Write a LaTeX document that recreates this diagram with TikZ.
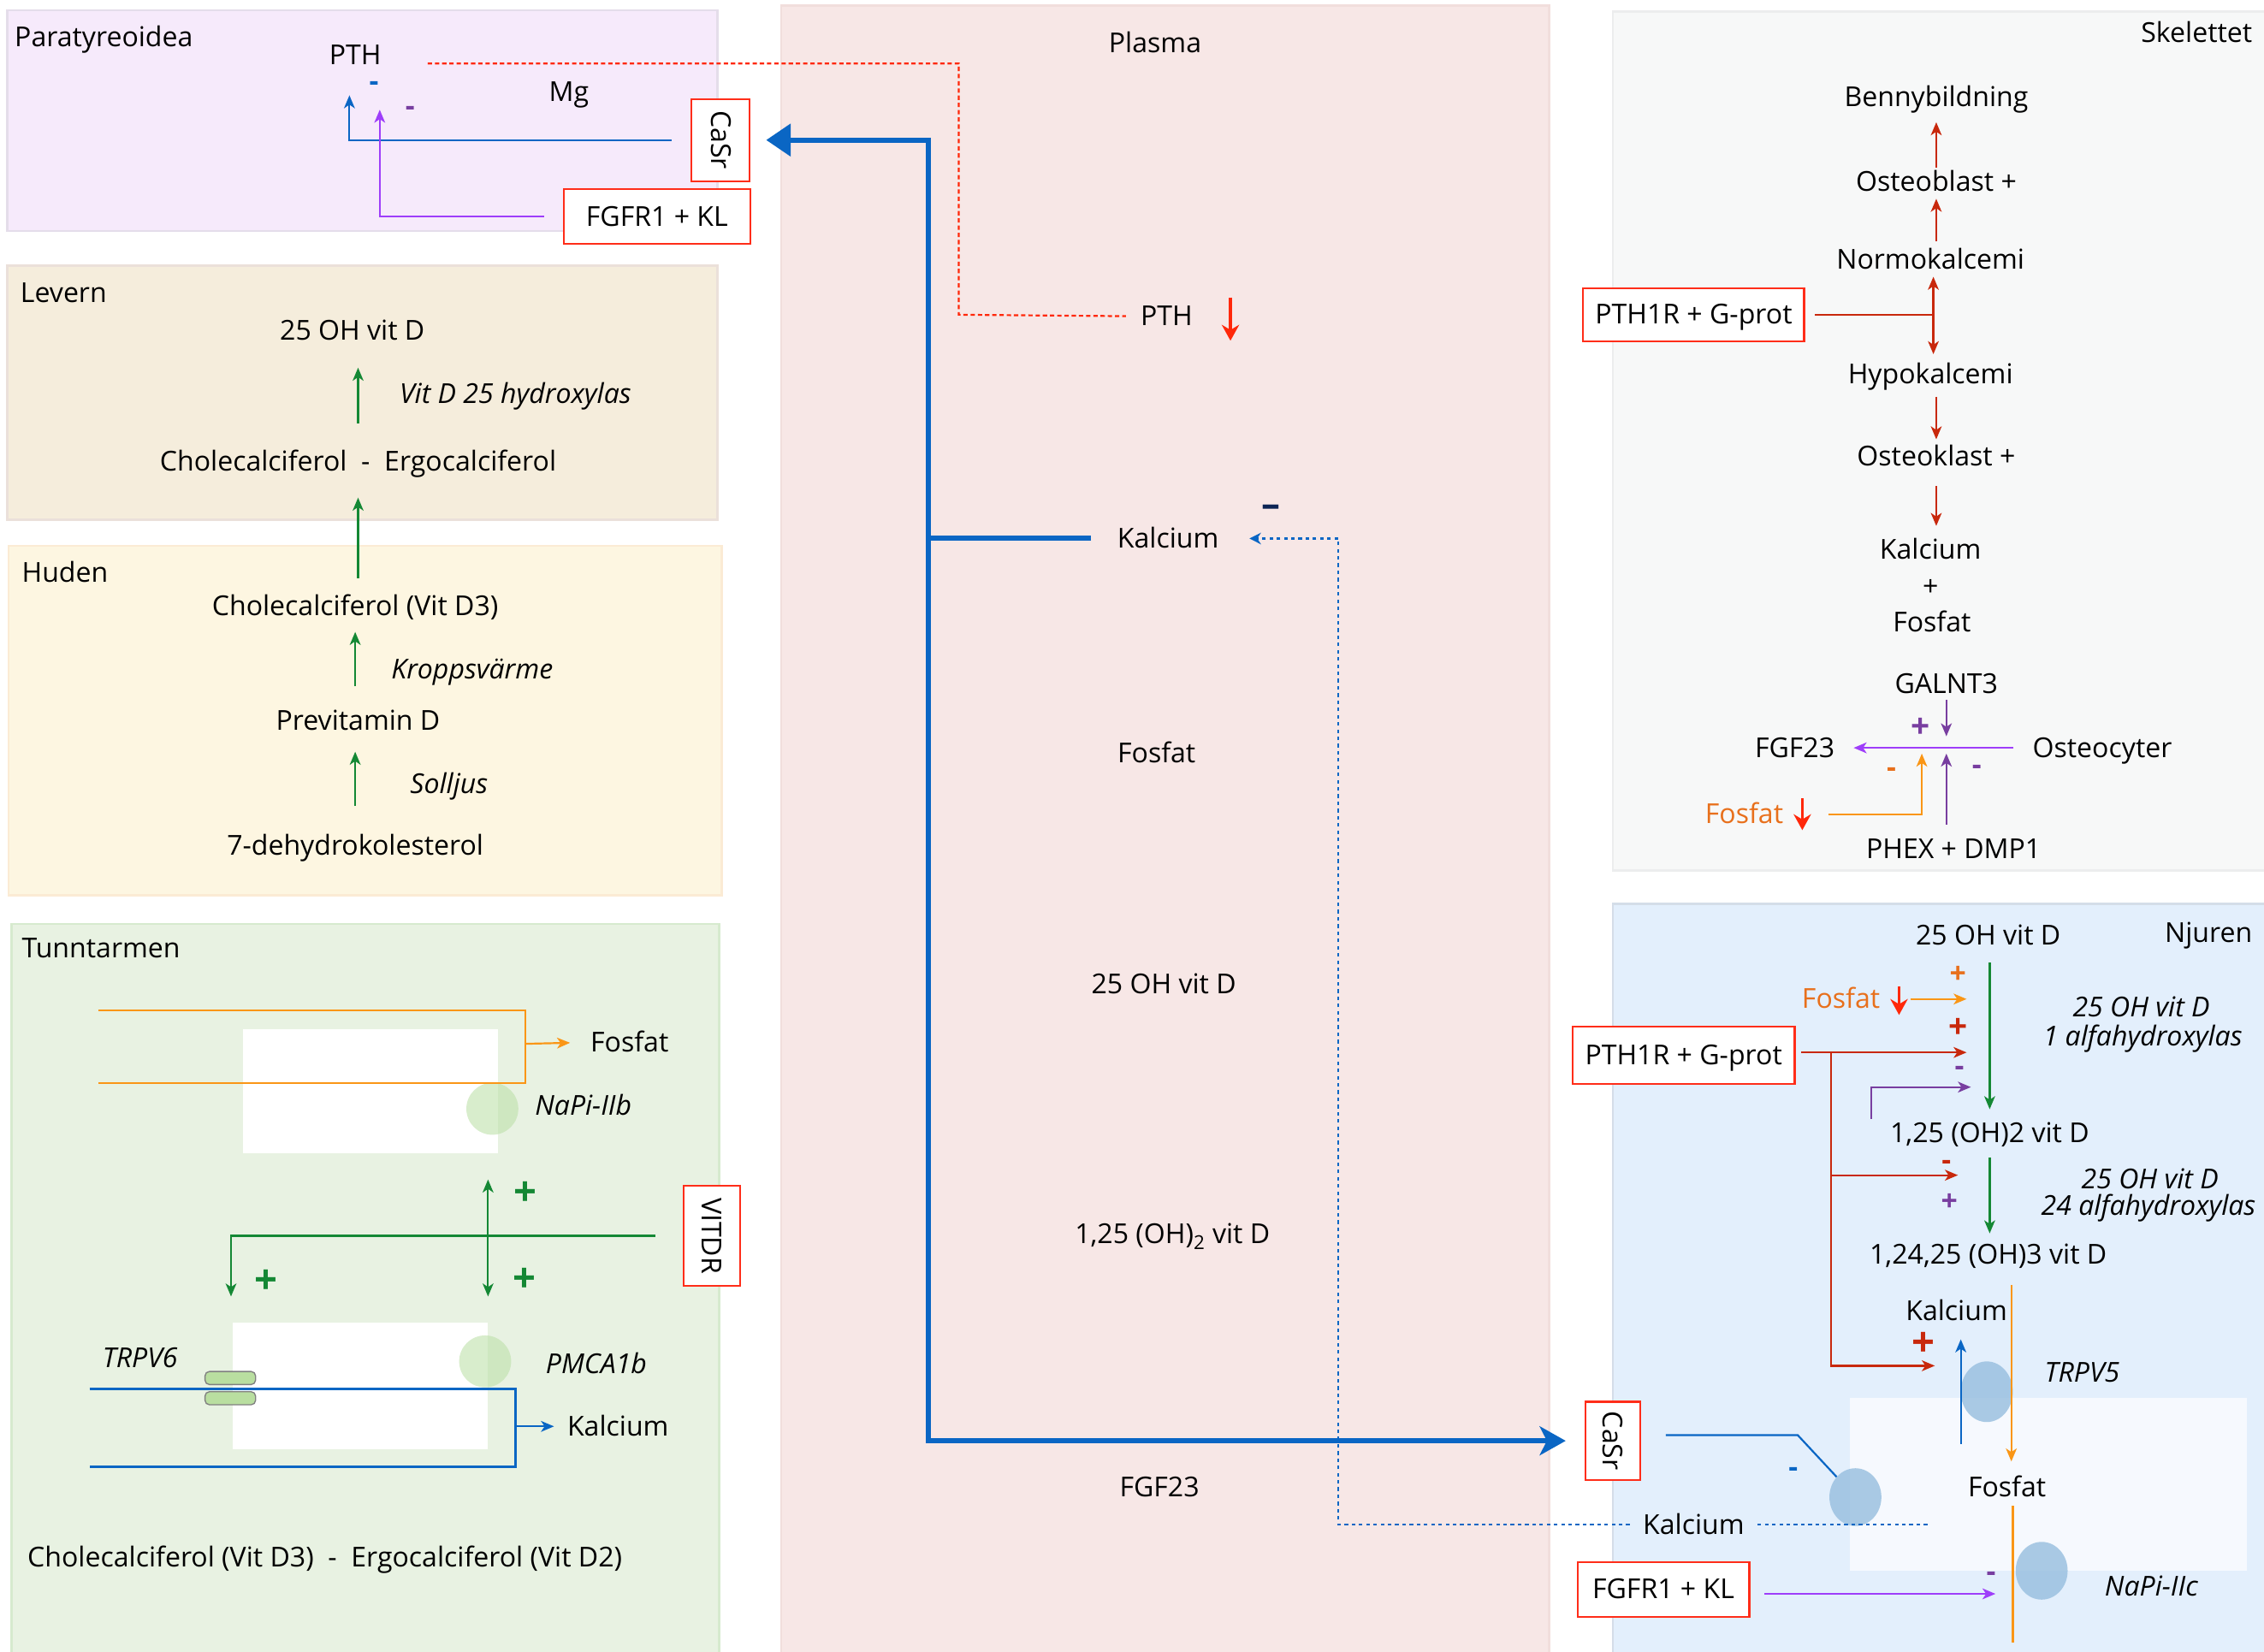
\documentclass[tikz,border=0pt]{standalone}
\usepackage{fontspec}
\setmainfont{Open Sans}
\usetikzlibrary{arrows.meta}

\definecolor{caBlue}{RGB}{10,102,196}
\definecolor{boxRed}{RGB}{255,45,25}
\definecolor{darkRed}{RGB}{200,40,12}
\definecolor{hotRed}{RGB}{255,40,10}
\definecolor{vitGreen}{RGB}{20,136,52}
\definecolor{phOrange}{RGB}{250,150,22}
\definecolor{txtOrange}{RGB}{232,112,28}
\definecolor{lilac}{RGB}{158,62,250}
\definecolor{plum}{RGB}{120,62,160}
\definecolor{navy}{RGB}{12,36,84}
\definecolor{paraFill}{RGB}{246,234,251}
\definecolor{paraLine}{RGB}{228,221,234}
\definecolor{liverFill}{RGB}{245,237,220}
\definecolor{liverLine}{RGB}{235,224,218}
\definecolor{skinFill}{RGB}{253,246,225}
\definecolor{skinLine}{RGB}{251,235,212}
\definecolor{gutFill}{RGB}{232,242,226}
\definecolor{gutLine}{RGB}{214,234,206}
\definecolor{plasmaFill}{RGB}{247,231,230}
\definecolor{plasmaLine}{RGB}{241,222,220}
\definecolor{boneFill}{RGB}{247,248,248}
\definecolor{boneLine}{RGB}{236,237,238}
\definecolor{kidFill}{RGB}{227,239,252}
\definecolor{kidLine}{RGB}{212,221,232}
\definecolor{kidCell}{RGB}{246,249,254}
\definecolor{poreGreen}{RGB}{190,225,170}
\definecolor{poreBlue}{RGB}{150,190,222}
\definecolor{pillGreen}{RGB}{185,222,160}

\begin{document}
\begin{tikzpicture}[x=1pt,y=-1pt,
  every node/.style={font=\fontsize{19}{22}\selectfont, inner sep=1pt,
    text height=14pt, text depth=1pt},
  enz/.style={font=\fontsize{19}{22}\selectfont\itshape},
  recbox/.style={draw=boxRed, line width=1.3pt, fill=white, minimum height=38pt},
  arr/.style={-{Stealth[length=9pt,width=7.5pt,inset=2.5pt]}, line width=1.3pt},
  arrs/.style={{Stealth[length=9pt,width=7.5pt,inset=2.5pt]}-{Stealth[length=9pt,width=7.5pt,inset=2.5pt]}, line width=1.3pt},
  trunk/.style={caBlue, line width=3.6pt},
  pthline/.style={hotRed, line width=1.3pt, dash pattern=on 3pt off 2pt},
  caline/.style={caBlue, line width=1.3pt, dash pattern=on 2.5pt off 2.5pt},
  fall/.style={hotRed, line width=2pt, -{Stealth[length=11pt,width=12pt]}},
  sign/.style={font=\fontsize{20}{20}\selectfont\bfseries, inner sep=0pt,
    text height=, text depth=},
  bigsign/.style={sign, font=\fontsize{28}{28}\selectfont\bfseries},
  pore/.style={fill=poreBlue, fill opacity=0.8},
  gpore/.style={fill=poreGreen, fill opacity=0.6},
  panel/.style={line width=1.5pt},
]
\useasboundingbox (0,0) rectangle (1568,1144);
\fill[white] (0,0) rectangle (1568,1144);

% organ panels
\draw[panel, paraLine, fill=paraFill] (5,7) rectangle (497,160);
\draw[panel, liverLine, fill=liverFill] (5,184) rectangle (497,360);
\draw[panel, skinLine, fill=skinFill] (6,378) rectangle (500,620);
\draw[panel, gutLine, fill=gutFill] (8,640) rectangle (498,1147);
\draw[panel, plasmaLine, fill=plasmaFill] (541,4) rectangle (1073,1147);
\draw[panel, boneLine, fill=boneFill] (1117,8) rectangle (1574,603);
\draw[panel, kidLine, fill=kidFill] (1117,626) rectangle (1574,1147);

% Paratyreoidea
\node[anchor=west] (paraT) at (9,26) {Paratyreoidea};
\node (pthP) at (246,38) {PTH};
\node (mg) at (394,64) {Mg};
\node[recbox, rotate=-90, minimum width=57pt, minimum height=40pt] (casrP) at (499,97) {CaSr};
\node[recbox, minimum width=129pt] (fgfrP) at (455,150) {FGFR1 + KL};
\coordinate (pthUp) at (242,66);
\coordinate (mgUp) at (263,76);
\draw[caBlue, arr] ([xshift=-34pt]casrP.center) -| (pthUp);
\draw[lilac, arr] ([xshift=-13pt]fgfrP.west) -| (mgUp);
\node[sign, caBlue] at (259,60) {-};
\node[sign, plum] at (284,77) {-};

% Levern
\node[anchor=west] (liverT) at (13,203) {Levern};
\node (d25L) at (244,229) {25 OH vit D};
\node[enz] (hyd25) at (357,273) {Vit D 25 hydroxylas};
\node (cholL) at (248,320) {Cholecalciferol\ \ -\ \ Ergocalciferol};
\draw[vitGreen, arr, shorten <=18pt, shorten >=17pt] (cholL.north) -- (cholL.north |- d25L.south);

% Huden
\node[anchor=west] (skinT) at (14,397) {Huden};
\node (d3) at (246,420) {Cholecalciferol (Vit D3)};
\node[enz] (heat) at (327,464) {Kroppsvärme};
\node (prev) at (248,499) {Previtamin D};
\node[enz] (sun) at (311,543) {Solljus};
\node (dehyd) at (246,586) {7-dehydrokolesterol};
\draw[vitGreen, arr, shorten <=11pt, shorten >=16pt] (d3.north -| cholL) -- (cholL.south);
\draw[vitGreen, arr, shorten <=15pt, shorten >=9pt] (prev.north -| d3) -- (d3.south);
\draw[vitGreen, arr, shorten <=19pt, shorten >=13pt] (dehyd.north) -- (dehyd.north |- prev.south);

% Tunntarmen
\node[anchor=west] (gutT) at (14,657) {Tunntarmen};
\fill[white] (168,713) rectangle (345,799);
\fill[white] (161,916) rectangle (338,1004);
\fill[gpore] (341,768) circle [radius=18];
\fill[gpore] (336,943) circle [radius=18];
\node (phT) at (436,722) {Fosfat};
\node[enz] (napiB) at (404,766) {NaPi-IIb};
\coordinate (phIn1) at (68,700);
\coordinate (phIn2) at (68,750);
\coordinate (phOut) at (364,723);
\draw[phOrange, line width=1.3pt] (phIn1) -- (364,700) -- (364,750) -- (phIn2);
\draw[phOrange, arr, shorten >=13pt] (phOut) -- (phT.west);
\node[recbox, rotate=-90, minimum width=69pt, minimum height=39pt] (vitdr) at (493,856) {VITDR};
\coordinate (trpvIn) at (160,898);
\coordinate (pmUp) at (338,817);
\coordinate (pmDn) at (338,898);
\draw[vitGreen, arr] ([xshift=-19pt]vitdr.south) -- (160,856) -- (trpvIn);
\draw[vitGreen, arrs] (pmUp) -- (pmDn);
\node[bigsign, vitGreen] at (364,827) {+};
\node[bigsign, vitGreen] at (184,888) {+};
\node[bigsign, vitGreen] at (363,887) {+};
\node[enz] (trpv6) at (97,941) {TRPV6};
\node[enz] (pmca) at (413,945) {PMCA1b};
\node (caT) at (428,988) {Kalcium};
\draw[gray, fill=pillGreen, rounded corners=3pt, line width=0.8pt] (142,950) rectangle (177,959);
\draw[gray, fill=pillGreen, rounded corners=3pt, line width=0.8pt] (142,964) rectangle (177,973);
\coordinate (caIn1) at (62,962);
\coordinate (caIn2) at (62,1016);
\coordinate (caOut) at (357,988);
\draw[caBlue, line width=1.3pt] (caIn1) -- (357,962) -- (357,1016) -- (caIn2);
\draw[caBlue, arr, shorten >=8pt] (caOut) -- (caT.west);
\node (cholT) at (225,1079) {Cholecalciferol (Vit D3)\ \ -\ \ Ergocalciferol (Vit D2)};

% Plasma
\node (plasmaT) at (800,30) {Plasma};
\node (pthPl) at (808,219) {PTH};
\node (caPl) at (809,373) {Kalcium};
\node (phPl) at (801,522) {Fosfat};
\node (d25Pl) at (806,682) {25 OH vit D};
\node (d125Pl) at (812,855) {1,25 (OH)\textsubscript{2} vit D};
\node (fgfPl) at (803,1030) {FGF23};
\draw[fall] ([xshift=25pt,yshift=13pt]pthPl.east) -- ++(0,30);
\node[sign, navy, font=\fontsize{26}{26}\selectfont\bfseries] at (880,354) {--};
\draw[pthline] ([xshift=31pt,yshift=-6pt]pthP.east) -| (664,218) -- ([xshift=-9pt]pthPl.west);

% Njuren
\node[anchor=east] (kidT) at (1561,646) {Njuren};
\fill[kidCell] (1281,968) rectangle (1556,1088);
\fill[pore] (1376,964) ellipse [x radius=18, y radius=21];
\fill[pore] (1285,1037) ellipse [x radius=18, y radius=20];
\fill[pore] (1414,1088) ellipse [x radius=18, y radius=20];
\node (d25K) at (1377,648) {25 OH vit D};
\node (d125K) at (1378,785) {1,25 (OH)2 vit D};
\node (d12425K) at (1377,869) {1,24,25 (OH)3 vit D};
\node[enz] (hyd1a) at (1483,698) {25 OH vit D};
\node[enz] (hyd1b) at (1484,718) {1 alfahydroxylas};
\node[enz] (hyd24a) at (1489,817) {25 OH vit D};
\node[enz] (hyd24b) at (1488,835) {24 alfahydroxylas};
\draw[vitGreen, arr, shorten <=10pt, shorten >=8pt] (d25K.south -| d125K) -- (d125K.north);
\draw[vitGreen, arr, shorten <=8pt, shorten >=6pt] (d125K.south) -- (d125K.south |- d12425K.north);
\node[text=txtOrange] (phK) at (1275,692) {Fosfat};
\draw[fall] ([xshift=12pt,yshift=9pt]phK.east) -- ++(0,20);
\coordinate (gateF) at (1362,692);
\coordinate (gateP) at (1362,729);
\coordinate (gateM) at (1365,753);
\coordinate (gate24) at (1356,814);
\coordinate (gateCa) at (1340,946);
\coordinate (jK) at (1268,729);
\coordinate (mStart) at (1296,775);
\draw[phOrange, arr] ([xshift=20pt]phK.east) -- (gateF);
\node[recbox, minimum width=154pt, minimum height=40pt] (pthK) at (1166,731) {PTH1R + G-prot};
\draw[darkRed, arr] ([xshift=4pt,yshift=2pt]pthK.east) -- (gateP);
\draw[darkRed, arr] (jK) -- (1268,946) -- (gateCa);
\draw[darkRed, arr] (jK |- gate24) -- (gate24);
\draw[plum, arr] (mStart) -- (1296,753) -- (gateM);
\node[sign, txtOrange] at (1356,675) {+};
\node[sign, darkRed, font=\fontsize{23}{23}\selectfont\bfseries] at (1356,712) {+};
\node[sign, plum] at (1357,742) {-};
\node[sign, darkRed] at (1348,807) {-};
\node[sign, plum] at (1350,833) {+};
\node (caK2) at (1355,908) {Kalcium};
\node (fosK) at (1390,1030) {Fosfat};
\node[enz] (trpv5) at (1442,951) {TRPV5};
\node[enz] (napiC) at (1490,1099) {NaPi-IIc};
\node[bigsign, darkRed] at (1332,931) {+};
\coordinate (oTop) at (1393,890);
\coordinate (oBot1) at (1394,1043);
\coordinate (oBot2) at (1394,1138);
\coordinate (cUp) at (1358,1000);
\draw[phOrange, arr, shorten >=9pt] (oTop) -- (oTop |- fosK.north);
\draw[phOrange, line width=1.3pt] (oBot1) -- (oBot2);
\draw[caBlue, arr, shorten >=11pt] (cUp) -- (cUp |- caK2.south);
\node[recbox, rotate=-90, minimum width=54pt, minimum height=38pt] (casrK) at (1117,998) {CaSr};
\coordinate (caStop) at (1272,1023);
\draw[caBlue, line width=1.3pt] ([xshift=17pt,yshift=4pt]casrK.north) -- (1245,994) -- (caStop);
\node[sign, caBlue] at (1242,1020) {-};
\node (caK) at (1173,1056) {Kalcium};
\coordinate (caEnd) at (1336,1056);
\draw[caline] ([xshift=8pt]caK.east) -- (caEnd);
\node[recbox, minimum width=119pt] (fgfK) at (1152,1101) {FGFR1 + KL};
\coordinate (gateN) at (1382,1104);
\draw[lilac, arr] ([xshift=10pt,yshift=-3pt]fgfK.east) -- (gateN);
\node[sign, plum] at (1379,1092) {-};

% Skelettet
\node[anchor=east] (boneT) at (1561,23) {Skelettet};
\node (bone) at (1341,67) {Bennybildning};
\node (oblast) at (1341,126) {Osteoblast +};
\node (normo) at (1337,180) {Normokalcemi};
\node[recbox, minimum width=153pt, minimum height=37pt] (pthS) at (1173,218) {PTH1R + G-prot};
\node (hypo) at (1337,259) {Hypokalcemi};
\node (oklast) at (1341,316) {Osteoklast +};
\node (caS) at (1337,381) {Kalcium};
\node (plusS) at (1337,406) {+};
\node (phS) at (1338,431) {Fosfat};
\coordinate (jS) at (1339,218);
\draw[darkRed, arr, shorten <=1pt, shorten >=9pt] (oblast.north) -- (bone.south);
\draw[darkRed, arr, shorten <=4pt, shorten >=3pt] (normo.north -| oblast) -- (oblast.south);
\draw[darkRed, line width=1.3pt] ([xshift=7pt]pthS.east) -- (jS);
\draw[darkRed, arr, shorten >=3pt] (jS) -- (jS |- normo.south);
\draw[darkRed, arr, shorten >=5pt] (jS) -- (jS |- hypo.north);
\draw[darkRed, arr, shorten <=7pt, shorten >=3pt] (hypo.south -| oklast) -- (oklast.north);
\draw[darkRed, arr, shorten <=12pt, shorten >=8pt] (oklast.south) -- (oklast.south |- caS.north);
\node (galnt) at (1348,474) {GALNT3};
\node (fgfS) at (1243,518) {FGF23};
\node (osteo) at (1456,518) {Osteocyter};
\node (phex) at (1353,588) {PHEX + DMP1};
\node[text=txtOrange] (phS2) at (1208,564) {Fosfat};
\coordinate (hubG) at (1348,510);
\coordinate (hubP) at (1348,522);
\coordinate (hubF) at (1331,522);
\draw[lilac, arr] ([xshift=-12pt]osteo.west) -- ([xshift=12pt]fgfS.east);
\draw[plum, arr, shorten <=2pt] (galnt.south) -- (hubG);
\draw[plum, arr, shorten <=8pt] (hubP |- phex.north) -- (hubP);
\draw[phOrange, arr] ([xshift=30pt]phS2.east) -| (hubF);
\draw[fall] ([xshift=12pt,yshift=11pt]phS2.east) -- ++(0,22);
\node[sign, plum, font=\fontsize{23}{23}\selectfont\bfseries] at (1330,504) {+};
\node[sign, txtOrange] at (1310,535) {-};
\node[sign, plum] at (1369,533) {-};

% Ca-flow between the organs
\draw[trunk, {Triangle[length=17pt,width=22pt]}-{Stealth[length=18pt,width=20pt,inset=5pt]}]
  ([xshift=11pt]casrP.north) -- (643,97) -- (643,998) -- ([xshift=-13pt]casrK.south);
\draw[trunk] ([xshift=-17pt]caPl.west) -- (643,373);
\draw[caline, -{Stealth[length=8pt,width=8pt]}] ([xshift=-8pt]caK.west) -- (927,1056) -- (927,373) -- ([xshift=20pt]caPl.east);
\end{tikzpicture}
\end{document}
